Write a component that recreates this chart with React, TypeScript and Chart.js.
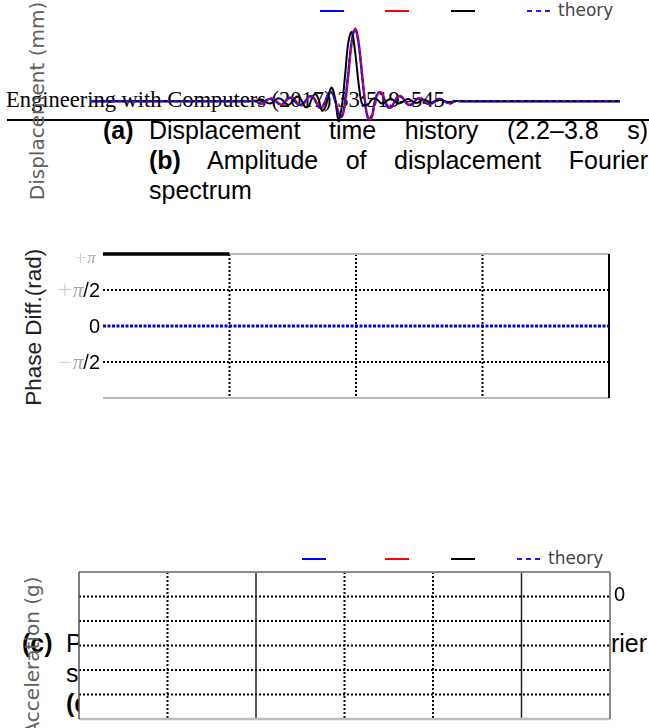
import React, { useEffect, useRef } from 'react';
import { Chart, registerables } from 'chart.js';

Chart.register(...registerables);

// ---------- (a) displacement time history, 2.2–3.8 s ----------
const timeS = [
  2.2, 2.5, 2.68,
  2.70, 2.71, 2.72, 2.73, 2.74, 2.75, 2.76, 2.77, 2.78, 2.79,
  2.80, 2.81, 2.82, 2.83, 2.84, 2.85, 2.86, 2.87, 2.88, 2.89,
  2.90, 2.91, 2.92, 2.93, 2.94, 2.95, 2.96, 2.97, 2.98, 2.99,
  3.00, 3.01, 3.02, 3.03, 3.04, 3.05, 3.06, 3.07, 3.08, 3.09,
  3.10, 3.11, 3.12, 3.13, 3.14, 3.15, 3.16, 3.17, 3.18, 3.19,
  3.20, 3.21, 3.22, 3.23, 3.24, 3.25, 3.26, 3.27, 3.28, 3.29,
  3.30,
  3.32, 3.5, 3.8,
];

const dispBlue = [
  0, 0, 0,
  0, -0.02, -0.03, 0.01, 0.03, 0.02, 0, -0.03, -0.05, 0,
  0.05, 0.04, -0.01, -0.05, -0.04, 0, 0.06, 0.07, 0.01, -0.08,
  -0.09, 0, 0.11, 0.12, 0, -0.17, -0.22, 0.01, 0.42, 0.84,
  1.0, 0.82, 0.4, -0.01, -0.25, -0.21, 0, 0.12, 0.11, 0,
  -0.09, -0.07, 0, 0.07, 0.06, 0, -0.05, -0.04, 0, 0.04,
  0.03, 0, -0.04, -0.03, 0, 0.03, 0.02, 0, -0.02, -0.03,
  0,
  0, 0, 0,
];

const dispRed = [
  0, 0, 0,
  0.01, -0.02, -0.04, -0.01, 0.03, 0.04, 0.01, -0.03, -0.05, -0.01,
  0.04, 0.05, 0.01, -0.04, -0.06, -0.01, 0.05, 0.07, 0.02, -0.07,
  -0.09, -0.02, 0.09, 0.13, 0.03, -0.14, -0.22, -0.05, 0.34, 0.79,
  1.01, 0.87, 0.47, 0.03, -0.23, -0.24, -0.03, 0.11, 0.12, 0.02,
  -0.07, -0.09, -0.01, 0.06, 0.07, 0.01, -0.04, -0.05, -0.01, 0.04,
  0.04, 0.01, -0.03, -0.04, -0.01, 0.03, 0.03, 0, -0.02, -0.03,
  0,
  0, 0, 0,
];

const dispBlack = [
  0, 0, 0,
  0, 0.02, 0.02, -0.01, -0.03, -0.02, 0.02, 0.04, 0.02, -0.03,
  -0.05, -0.01, 0.05, 0.06, 0, -0.08, -0.07, 0.04, 0.1, 0.03,
  -0.13, -0.09, 0.08, 0.19, 0.03, -0.25, -0.08, 0.36, 0.82, 0.96,
  0.7, 0.28, -0.02, -0.06, -0.04, 0.02, 0.04, 0.01, -0.03, -0.02,
  0.02, 0.03, 0, -0.03, -0.02, 0.01, 0.03, 0.01, -0.02, -0.02,
  0.01, 0.02, 0, -0.02, -0.01, 0.01, 0.02, 0, -0.01, -0.01,
  0,
  0, 0, 0,
];

const dispTheory = [
  0, 0, 0,
  0, -0.03, -0.03, 0, 0.03, 0.03, 0, -0.04, -0.04, 0,
  0.04, 0.04, 0, -0.05, -0.05, 0, 0.06, 0.06, 0, -0.08,
  -0.08, 0, 0.1, 0.12, 0, -0.17, -0.21, 0, 0.41, 0.83,
  1.0, 0.83, 0.41, 0, -0.24, -0.2, 0, 0.12, 0.1, 0,
  -0.08, -0.08, 0, 0.06, 0.06, 0, -0.05, -0.05, 0, 0.04,
  0.04, 0, -0.04, -0.04, 0, 0.03, 0.03, 0, -0.03, -0.03,
  0,
  0, 0, 0,
];

// ---------- phase difference panel ----------
const phaseFreq = [0, 1];
const phaseMeasured = [Math.PI, Math.PI];
const phaseTheoryFreq = [0, 4];
const phaseTheory = [0, 0];
const phaseGridX = [1, 2, 3];
const phaseGridY = [Math.PI / 2, -Math.PI / 2];

// ---------- acceleration panel (empty frame) ----------
const accelDottedX = [1, 3, 4];
const accelSolidX = [2, 5];
const accelGridY = [1, 2, 3, 4, 5];
const accelTickValue = 5;
const accelTickLabel = '0';

const legendSeries = ['', '', '', 'theory'];

type Line = { axis: 'x' | 'y'; value: number; color: string; width: number; dash?: number[] };
type Part = { t: string; font: string; color: string };
type Lbl = { value: number; dy: number; side: 'left' | 'right'; parts: Part[] };
type Side = { color: string; width: number };
type PaperCfg = {
  fill?: string;
  lines?: Line[];
  borders?: { top?: Side; bottom?: Side; left?: Side; right?: Side };
  labels?: Lbl[];
};

function makePaper(cfg: PaperCfg) {
  return {
    id: 'paper',
    beforeDatasetsDraw(chart: any) {
      const { ctx, chartArea: a, scales } = chart;
      ctx.save();
      if (cfg.fill) {
        ctx.fillStyle = cfg.fill;
        ctx.fillRect(a.left, a.top, a.right - a.left, a.bottom - a.top);
      }
      (cfg.lines || []).forEach((l) => {
        const p = scales[l.axis].getPixelForValue(l.value);
        ctx.save();
        ctx.strokeStyle = l.color;
        ctx.lineWidth = l.width;
        ctx.setLineDash(l.dash || []);
        ctx.beginPath();
        if (l.axis === 'x') {
          ctx.moveTo(p, a.top);
          ctx.lineTo(p, a.bottom);
        } else {
          ctx.moveTo(a.left, p);
          ctx.lineTo(a.right, p);
        }
        ctx.stroke();
        ctx.restore();
      });
      const b = cfg.borders || {};
      const seg = (s: Side | undefined, x1: number, y1: number, x2: number, y2: number) => {
        if (!s) return;
        ctx.save();
        ctx.strokeStyle = s.color;
        ctx.lineWidth = s.width;
        ctx.setLineDash([]);
        ctx.beginPath();
        ctx.moveTo(x1, y1);
        ctx.lineTo(x2, y2);
        ctx.stroke();
        ctx.restore();
      };
      seg(b.top, a.left, a.top, a.right, a.top);
      seg(b.bottom, a.left, a.bottom, a.right, a.bottom);
      seg(b.left, a.left, a.top, a.left, a.bottom);
      seg(b.right, a.right, a.top, a.right, a.bottom);
      ctx.restore();
    },
    afterDraw(chart: any) {
      const { ctx, chartArea: a, scales } = chart;
      (cfg.labels || []).forEach((lb) => {
        const y = scales.y.getPixelForValue(lb.value) + lb.dy;
        ctx.save();
        ctx.textBaseline = 'middle';
        if (lb.side === 'left') {
          let x = a.left - 3;
          ctx.textAlign = 'right';
          for (let i = lb.parts.length - 1; i >= 0; i--) {
            const p = lb.parts[i];
            ctx.font = p.font;
            ctx.fillStyle = p.color;
            ctx.fillText(p.t, x, y);
            x -= ctx.measureText(p.t).width;
          }
        } else {
          let x = a.right + 4;
          ctx.textAlign = 'left';
          lb.parts.forEach((p) => {
            ctx.font = p.font;
            ctx.fillStyle = p.color;
            ctx.fillText(p.t, x, y);
            x += ctx.measureText(p.t).width;
          });
        }
        ctx.restore();
      });
    },
  };
}

function lineDataset(label: string, xs: number[], ys: number[], color: string, width: number, dash: number[] = [], order = 0) {
  return {
    label,
    data: xs.map((x, i) => ({ x, y: ys[i] })),
    borderColor: color,
    backgroundColor: color,
    borderWidth: width,
    borderDash: dash,
    pointRadius: 0,
    tension: 0.4,
    fill: false,
    clip: false as any,
    order,
  };
}

function ChartCanvas({ left, top, width, height, make }: any) {
  const ref = useRef<HTMLCanvasElement>(null);
  useEffect(() => {
    const chart = new Chart(ref.current as HTMLCanvasElement, make());
    return () => chart.destroy();
  }, []);
  return (
    <canvas
      ref={ref}
      width={width}
      height={height}
      style={{ position: 'absolute', left, top, width, height }}
    />
  );
}

const baseOptions = (xmin: number, xmax: number, ymin: number, ymax: number, padding: any) => ({
  responsive: false,
  animation: false as const,
  events: [] as any[],
  layout: { padding },
  plugins: { legend: { display: false }, tooltip: { enabled: false } },
  scales: {
    x: { type: 'linear' as const, min: xmin, max: xmax, display: false },
    y: { type: 'linear' as const, min: ymin, max: ymax, display: false },
  },
});

const makeDisplacement = () => ({
  type: 'line' as const,
  data: {
    datasets: [
      lineDataset('', timeS, dispBlue, '#0000ff', 2, [], 4),
      lineDataset('', timeS, dispRed, '#ff0000', 2, [], 3),
      lineDataset('', timeS, dispBlack, '#000000', 2, [], 2),
      lineDataset('theory', timeS, dispTheory, '#1a1aff', 2, [4, 3], 1),
    ],
  },
  options: baseOptions(2.2, 3.8, -0.4, 1.1, { left: 4, right: 4, top: 4, bottom: 4 }),
});

const grayPlus = '#c4c4c4';
const grayPi = '#a8a8a8';
const plusFont = '200 19px "DejaVu Sans"';
const piFont = 'italic 21px "Liberation Serif"';
const numFont = '20px "Liberation Sans"';

const makePhase = () => ({
  type: 'line' as const,
  data: {
    datasets: [
      { ...lineDataset('', phaseFreq, phaseMeasured, '#000000', 3.5, [], 1), tension: 0 },
      { ...lineDataset('theory', phaseTheoryFreq, phaseTheory, '#0000ee', 3, [3, 1.5], 2), tension: 0 },
    ],
  },
  options: baseOptions(0, 4, -Math.PI, Math.PI, { left: 63, right: 21, top: 18, bottom: 18 }),
  plugins: [
    makePaper({
      lines: [
        ...phaseGridX.map((v) => ({ axis: 'x' as const, value: v, color: '#000', width: 2, dash: [2, 2] })),
        ...phaseGridY.map((v) => ({ axis: 'y' as const, value: v, color: '#000', width: 2, dash: [2, 2] })),
      ],
      borders: {
        top: { color: '#b8b8b8', width: 2 },
        bottom: { color: '#b8b8b8', width: 2 },
        right: { color: '#000', width: 2 },
      },
      labels: [
        {
          value: Math.PI, dy: 5, side: 'left', parts: [
            { t: '+', font: '200 16px "DejaVu Sans"', color: grayPlus },
            { t: 'π ', font: 'italic 17px "Liberation Serif"', color: grayPi },
          ],
        },
        {
          value: Math.PI / 2, dy: 1, side: 'left', parts: [
            { t: '+', font: plusFont, color: grayPlus },
            { t: 'π', font: piFont, color: grayPi },
            { t: '/2', font: numFont, color: '#000' },
          ],
        },
        { value: 0, dy: 1, side: 'left', parts: [{ t: '0', font: numFont, color: '#000' }] },
        {
          value: -Math.PI / 2, dy: 1, side: 'left', parts: [
            { t: '−', font: plusFont, color: grayPlus },
            { t: 'π', font: piFont, color: grayPi },
            { t: '/2', font: numFont, color: '#000' },
          ],
        },
      ],
    }),
  ],
});

const makeAccel = () => ({
  type: 'line' as const,
  data: {
    datasets: [
      lineDataset('', [], [], '#0000ff', 2),
      lineDataset('', [], [], '#ff0000', 2),
      lineDataset('', [], [], '#000000', 2),
      lineDataset('theory', [], [], '#1a1aff', 2, [4, 3]),
    ],
  },
  options: baseOptions(0, 6, 0, 6, { left: 19, right: 39, top: 12, bottom: 9 }),
  plugins: [
    makePaper({
      fill: '#ffffff',
      lines: [
        ...accelDottedX.map((v) => ({ axis: 'x' as const, value: v, color: '#000', width: 2, dash: [2, 2] })),
        ...accelSolidX.map((v) => ({ axis: 'x' as const, value: v, color: '#222', width: 1.5 })),
        ...accelGridY.map((v) => ({ axis: 'y' as const, value: v, color: '#000', width: 2, dash: [2, 2] })),
      ],
      borders: {
        top: { color: '#8a8a8a', width: 2 },
        bottom: { color: '#bdbdbd', width: 2.5 },
        left: { color: '#555', width: 1.5 },
        right: { color: '#8a8a8a', width: 2 },
      },
      labels: [
        { value: accelTickValue, dy: -1, side: 'right', parts: [{ t: accelTickLabel, font: numFont, color: '#000' }] },
      ],
    }),
  ],
});

function VLabel({ text, cx, cy, size, family, color }: any) {
  const w = 300;
  return (
    <div
      style={{
        position: 'absolute',
        left: cx - w / 2,
        top: cy - size / 2,
        width: w,
        height: size,
        lineHeight: `${size}px`,
        fontSize: size,
        fontFamily: family,
        color,
        textAlign: 'center',
        whiteSpace: 'nowrap',
        transform: 'rotate(-90deg)',
      }}
    >
      {text}
    </div>
  );
}

function Legend({ y, xs }: { y: number; xs: number[] }) {
  const colors = ['#0000ff', '#ff0000', '#000000'];
  return (
    <>
      {colors.map((c, i) => (
        <div key={i} style={{ position: 'absolute', left: xs[i], top: y - 1, width: 24, height: 2, background: c }} />
      ))}
      <div
        style={{
          position: 'absolute',
          left: xs[3],
          top: y - 1,
          width: 24,
          height: 2,
          background: 'repeating-linear-gradient(to right, #1a1aff 0 5px, transparent 5px 9px)',
        }}
      />
      <div
        style={{
          position: 'absolute',
          left: xs[4],
          top: y - 9,
          fontFamily: '"DejaVu Sans"',
          fontSize: 17,
          lineHeight: '17px',
          color: '#444',
          whiteSpace: 'nowrap',
        }}
      >
        {legendSeries[3]}
      </div>
    </>
  );
}

const capFont = '"Liberation Sans", Arial, sans-serif';

function CapLine({ left, top, width, justify, children }: any) {
  return (
    <div
      style={{
        position: 'absolute',
        left,
        top,
        width,
        fontFamily: capFont,
        fontSize: 25,
        lineHeight: '30px',
        color: '#000',
        textAlign: justify ? 'justify' : 'left',
        textAlignLast: justify ? 'justify' : 'auto',
        whiteSpace: justify ? 'normal' : 'nowrap',
      } as any}
    >
      {children}
    </div>
  );
}

export default function App() {
  return (
    <div style={{ position: 'fixed', left: 0, top: 0, width: 649, height: 728, overflow: 'hidden', background: '#fff' }}>
      {/* top figure */}
      <div
        style={{
          position: 'absolute',
          left: 6,
          top: 89,
          fontFamily: '"Liberation Serif", serif',
          fontSize: 22.5,
          lineHeight: '22px',
          whiteSpace: 'nowrap',
          color: '#000',
        }}
      >
        Engineering with Computers (2017) 33:519–545
      </div>
      <div style={{ position: 'absolute', left: 7, top: 119, width: 642, height: 2, background: '#000' }} />
      <CapLine left={103} top={115} width={40}><b>(a)</b></CapLine>
      <CapLine left={149} top={115} width={499} justify>Displacement time history (2.2–3.8 s)</CapLine>
      <CapLine left={149} top={145} width={499} justify><b>(b)</b> Amplitude of displacement Fourier</CapLine>
      <CapLine left={149} top={175} width={499}>spectrum</CapLine>
      <VLabel text="Displacement (mm)" cx={37} cy={101} size={20} family='"DejaVu Sans"' color="#606060" />
      <Legend y={11} xs={[320, 385, 451, 527, 558]} />
      <ChartCanvas left={86} top={18} width={538} height={116} make={makeDisplacement} />

      {/* phase difference */}
      <VLabel text="Phase Diff.(rad)" cx={34} cy={327} size={22.5} family={capFont} color="#222" />
      <ChartCanvas left={40} top={236} width={590} height={180} make={makePhase} />

      {/* acceleration figure */}
      <CapLine left={22} top={628} width={44}><b>(c)</b></CapLine>
      <CapLine left={66} top={628} width={581} justify>Phase difference of displacement Fourier</CapLine>
      <CapLine left={66} top={658} width={581}>spectrum</CapLine>
      <CapLine left={66} top={688} width={581}><b>(d)</b> Acceleration time history</CapLine>
      <VLabel text="Acceleration (g)" cx={32} cy={656} size={20} family='"DejaVu Sans"' color="#606060" />
      <Legend y={559} xs={[302, 385, 451, 517, 548]} />
      <ChartCanvas left={60} top={560} width={589} height={168} make={makeAccel} />
    </div>
  );
}
